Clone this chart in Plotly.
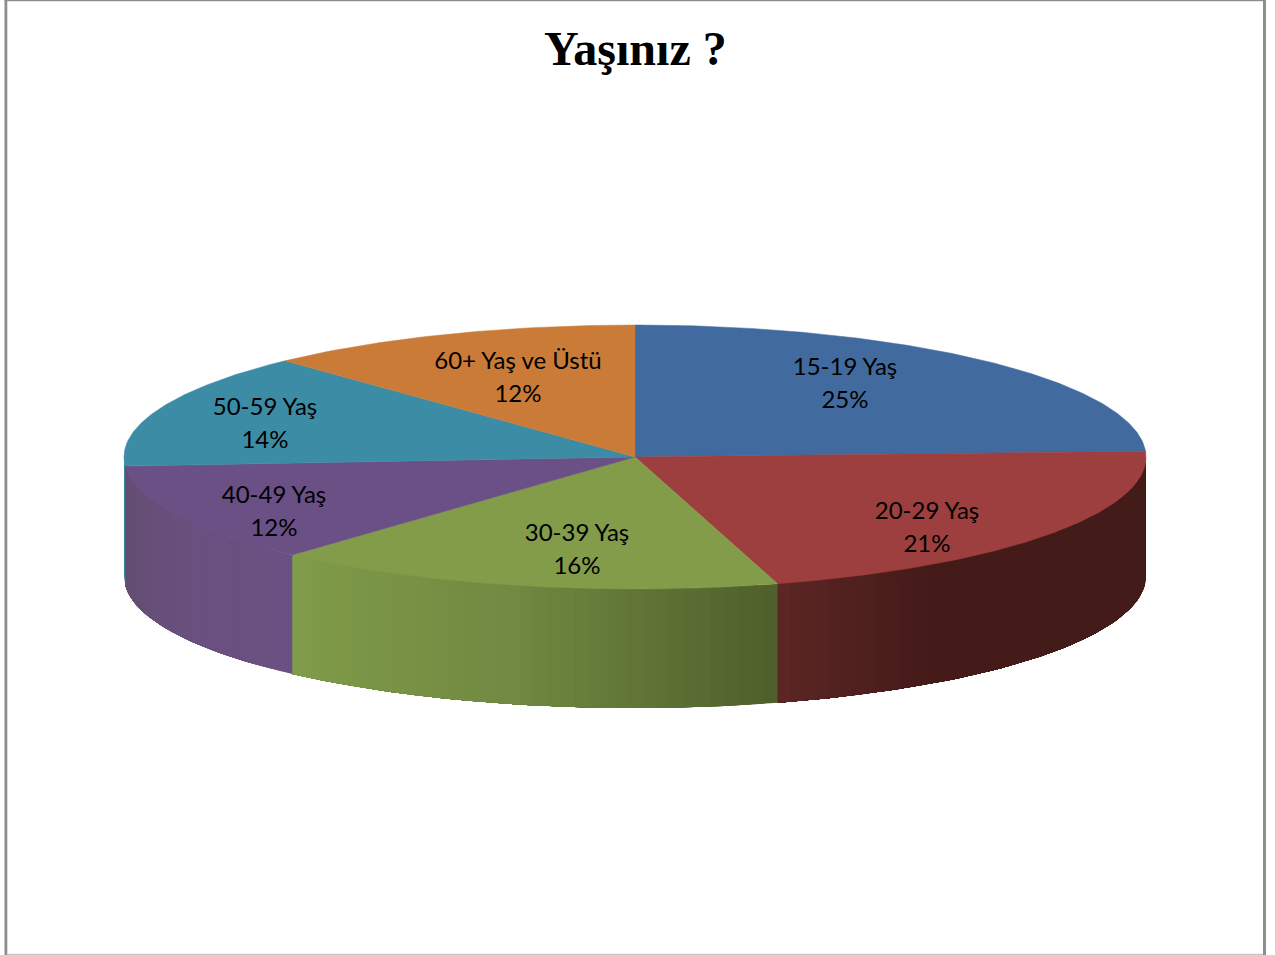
import math
import plotly.graph_objects as go

# ---- data ----
categories = ["15-19 Yaş", "20-29 Yaş", "30-39 Yaş", "40-49 Yaş", "50-59 Yaş", "60+ Yaş ve Üstü"]
values = [24.3, 21.2, 16.2, 12.2, 14.1, 12.0]
percent_labels = ["25%", "21%", "16%", "12%", "14%", "12%"]
title_text = "Yaşınız ?"

# ---- styles ----
top_colors = ["#416b9e", "#9c3f3e", "#829c4a", "#6a5085", "#3c8ca6", "#cb7b38"]
# wall gradient stops: (fraction across the slice wall left to right, rgb)
wall_stops = [
    [(0, (64, 104, 152)), (1, (64, 104, 152))],
    [(0, (92, 38, 37)), (0.4, (68, 27, 25)), (1, (67, 27, 24))],
    [(0, (128, 155, 73)), (0.45, (113, 137, 65)), (1, (78, 95, 43))],
    [(0, (99, 78, 113)), (0.4, (106, 80, 128)), (1, (107, 81, 131))],
    [(0, (58, 133, 155)), (1, (58, 133, 155))],
    [(0, (203, 123, 56)), (1, (203, 123, 56))],
]
label_centres = [(845, 385), (927, 529), (577, 551), (274, 513), (265, 425), (518, 379)]

# ---- geometry (canvas units) ----
W, H = 1275, 955
CX, CY, RX, RY, DEPTH = 635, 457, 511, 132, 119
LINE_GAP = 16.5


def pt(deg, drop=0.0):
    a = math.radians(deg)
    return CX + RX * math.sin(a), CY - RY * math.cos(a) + drop


def wall_colour(stops, f):
    for (f0, c0), (f1, c1) in zip(stops, stops[1:]):
        if f <= f1:
            t = (f - f0) / (f1 - f0) if f1 > f0 else 0
            return "rgb(%d,%d,%d)" % tuple(round(a + (b - a) * t) for a, b in zip(c0, c1))
    return "rgb(%d,%d,%d)" % stops[-1][1]


total = sum(values)
edges = [0.0]
for v in values:
    edges.append(edges[-1] + 360 * v / total)

fig = go.Figure()

# walls: only the part of each slice facing the viewer.
# Each strip runs on to the slice's far end and the next strip paints over it,
# so no seams appear between neighbouring strips.
for i in range(len(values)):
    a0, a1 = max(edges[i], 90), min(edges[i + 1], 270)
    if a1 <= a0:
        continue
    n = max(1, int((a1 - a0) / 1.5))
    xa, xb = sorted((pt(a0)[0], pt(a1)[0]))
    for k in range(n):
        s0 = a0 + (a1 - a0) * k / n
        s1 = a0 + (a1 - a0) * (k + 1) / n
        fr = ((pt(s0)[0] + pt(s1)[0]) / 2 - xa) / max(xb - xa, 1e-6)
        col = wall_colour(wall_stops[i], fr)
        angs = [s0 + (a1 - s0) * j / (n - k) for j in range(n - k + 1)]
        p = [pt(a) for a in angs] + [pt(a, DEPTH) for a in reversed(angs)]
        p.append(p[0])
        fig.add_trace(go.Scatter(
            x=[q[0] for q in p], y=[q[1] for q in p], mode="lines", fill="toself",
            fillcolor=col, line=dict(width=0), hoverinfo="skip", showlegend=False))

# top faces
for i, cat in enumerate(categories):
    a0, a1 = edges[i], edges[i + 1]
    n = max(2, int((a1 - a0) * 2))
    arc = [pt(a0 + (a1 - a0) * k / n) for k in range(n + 1)]
    p = [(CX, CY)] + arc + [(CX, CY)]
    fig.add_trace(go.Scatter(
        x=[q[0] for q in p], y=[q[1] for q in p], mode="lines", fill="toself",
        fillcolor=top_colors[i], line=dict(color=top_colors[i], width=0.5),
        name=cat, hoverinfo="name", showlegend=False))

# labels
lx, ly, lt = [], [], []
for (x, y), cat, pc in zip(label_centres, categories, percent_labels):
    lx += [x, x]
    ly += [y - LINE_GAP, y + LINE_GAP]
    lt += [cat, pc]
fig.add_trace(go.Scatter(
    x=lx, y=ly, text=lt, mode="text", textposition="middle center",
    textfont=dict(family="Lato, Carlito, sans-serif", size=24, color="#000000"),
    hoverinfo="skip", showlegend=False))

border = "#8e8e8e"
shapes = [
    dict(type="rect", x0=4.5, x1=7.3, y0=0, y1=H, fillcolor=border, line_width=0, layer="above"),
    dict(type="rect", x0=4.5, x1=1266, y0=0, y1=1.3, fillcolor=border, line_width=0, layer="above"),
    dict(type="rect", x0=1263, x1=1266, y0=0, y1=H, fillcolor=border, line_width=0, layer="above"),
    dict(type="rect", x0=7, x1=1263, y0=953.7, y1=H, fillcolor="#c8c8c8", line_width=0, layer="above"),
]

fig.update_layout(
    width=W, height=H, autosize=False,
    margin=dict(l=0, r=0, t=0, b=0),
    paper_bgcolor="white", plot_bgcolor="white",
    xaxis=dict(range=[0, W], visible=False, fixedrange=True),
    yaxis=dict(range=[H, 0], visible=False, fixedrange=True),
    shapes=shapes,
    annotations=[dict(
        text="<b>%s</b>" % title_text, x=635, y=48, xref="x", yref="y", showarrow=False,
        xanchor="center", yanchor="middle",
        font=dict(family="Liberation Serif, serif", size=48, color="#000000"))],
)

fig.write_html("out.html", config={"displayModeBar": False},
               post_script="document.body.style.margin='0';document.body.style.overflow='hidden';")
